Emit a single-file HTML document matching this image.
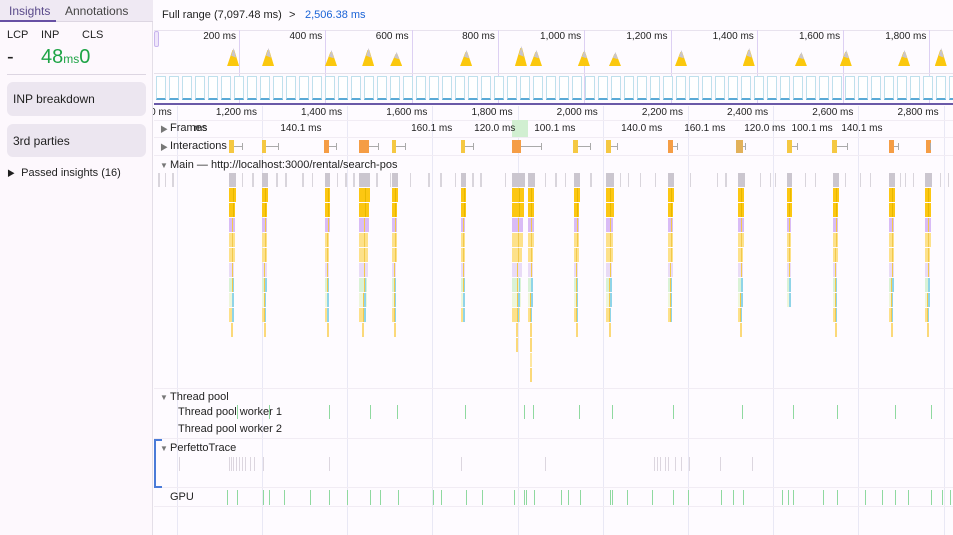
<!DOCTYPE html>
<html><head><meta charset="utf-8">
<style>
*{box-sizing:border-box;margin:0;padding:0}
body{width:953px;height:535px;overflow:hidden;background:#fefbff;font-family:"Liberation Sans","Noto Sans CJK KR",sans-serif;font-size:11px;color:#1f1f1f;position:relative}
.abs{position:absolute}
#side{left:0;top:0;width:153px;height:535px;background:#fdf8fd;border-right:1px solid #e4dfe8;z-index:5}
.tabs{position:absolute;left:0;top:0;width:153px;height:22px;background:#efe9f3;border-bottom:1px solid #ddd6e2}
.tab{position:absolute;top:4px;font-size:12px;color:#444}
.btn{position:absolute;left:7px;width:139px;background:#ece6f0;border-radius:6px;font-size:12px;padding-left:6px;display:flex;align-items:center}
.lbl{position:absolute;font-size:11px;white-space:nowrap}
</style></head><body>
<div id="side" class="abs">
 <div class="tabs">
  <div class="tab" style="left:9px;color:#5a4a8a">Insights</div>
  <div class="abs" style="left:0;top:20px;width:56px;height:2px;background:#6750a4"></div>
  <div class="tab" style="left:65px">Annotations</div>
 </div>
 <div class="lbl" style="left:7px;top:29px">LCP</div>
 <div class="lbl" style="left:41px;top:29px">INP</div>
 <div class="lbl" style="left:82px;top:29px">CLS</div>
 <div class="lbl" style="left:7px;top:46px;font-size:20px">-</div>
 <div class="lbl" style="left:41px;top:46px;font-size:20px;color:#1ea446">48<span style="font-size:12px">ms</span>0</div>
 <div class="abs" style="left:7px;top:74px;width:139px;height:1px;background:#ddd6e2"></div>
 <div class="btn" style="top:82px;height:34px">INP breakdown</div>
 <div class="btn" style="top:124px;height:33px">3rd parties</div>
 <div class="lbl" style="left:7px;top:167px"><span style="font-size:8px">▶</span>&nbsp; Passed insights (16)</div>
</div>

<div class="lbl" style="left:162px;top:9px">Full range (7,097.48 ms)</div>
<div class="lbl" style="left:289px;top:9px">&gt;</div>
<div class="lbl" style="left:305px;top:9px;color:#1a63d6">2,506.38 ms</div>

<div id="chart" class="abs" style="left:0;top:0;width:953px;height:535px"></div>

<script>
// Overview (full range) data
const overviewTicks=[200,400,600,800,1000,1200,1400,1600,1800];
const overviewPeaks=[184,265,411,497,562,724,851,886,997,1069,1222,1379,1500,1604,1739,1824];
const overviewPeakHeights=[16,16,14,16,12,14,18,14,14,12,14,16,12,14,14,16];
// Main timeline data (ms)
const rulerTicks=[1000,1200,1400,1600,1800,2000,2200,2400,2600,2800];
const frameLabels=["ms","140.1 ms","160.1 ms","120.0 ms","100.1 ms","140.0 ms","160.1 ms","120.0 ms","100.1 ms","140.1 ms"];
const frameLabelTimes=[1056,1290,1597,1745,1886,2090,2238,2379,2490,2607];
const greenFrameStart=1787, greenFrameEnd=1824;
const interactionStart=[1123,1200,1346,1428,1505,1667,1787,1930,2007,2153,2312,2432,2538,2672,2758];
const interactionDur=[12,9,12,23,9,9,21,12,12,12,16,12,12,12,12];
const interactionEnd=[1153,1238,1374,1472,1536,1695,1855,1970,2033,2174,2334,2456,2573,2693,2768];
const interactionKind=["y","y","o","o","y","y","o","y","y","o","t","y","y","o","o"];
const burstStart=[1123,1200,1348,1428,1505,1667,1787,1824,1932,2008,2153,2317,2432,2540,2672,2756];
const burstDur=[16,14,12,26,14,12,30,16,14,19,14,16,12,14,14,16];
const burstDepth=[11,11,11,11,11,10,12,14,11,11,10,11,9,11,11,11];
const minorTasks=[956,972,989,1153,1177,1233,1254,1294,1317,1376,1395,1414,1468,1500,1547,1590,1618,1653,1693,1712,1770,1864,1888,1911,1970,2040,2059,2087,2122,2204,2268,2287,2369,2392,2404,2474,2498,2568,2603,2627,2697,2709,2728,2791,2810];
const worker1=[1141,1216,1357,1453,1517,1676,1815,1836,1944,2021,2165,2327,2446,2550,2686,2770];
const perfetto=[1005,1123,1128,1133,1140,1145,1152,1160,1172,1181,1202,1357,1667,1864,2120,2127,2134,2146,2153,2169,2183,2202,2275,2350];
const gpu=[1118,1141,1202,1216,1252,1313,1357,1399,1453,1477,1519,1601,1620,1679,1716,1791,1815,1820,1838,1902,1918,1946,2017,2021,2057,2115,2165,2200,2277,2305,2329,2420,2434,2446,2517,2550,2615,2655,2686,2716,2770,2796,2815];

const C=document.getElementById('chart');
function ox(t){return 152.7+t*0.4315;}
function x(t){return 262+(t-1200)*0.426;}
function box(l,t,w,h,bg,name,extra){const d=document.createElement('div');d.className='abs';d.style.cssText=`left:${l}px;top:${t}px;width:${w}px;height:${h}px;background:${bg};${extra||''}`;


C.appendChild(d);return d;}
function text(l,t,s,name,extra){const d=document.createElement('div');d.className='lbl';d.style.cssText=`left:${l}px;top:${t}px;${extra||''}`;d.textContent=s;


C.appendChild(d);return d;}

// Overview
box(154,30,799,1,'#e8e2ee','overview-top-border');
box(154,31,5,16,'#efe6fa','overview-left-handle','border:1px solid #c9b6ee;border-radius:2px');
overviewTicks.forEach(t=>{const X=ox(t);box(X,30,1,74,'#ddd0f3','overview-gridline');
 text(X-60,31,t.toLocaleString('en-US')+' ms','overview-tick-label','width:57px;text-align:right;font-size:10px');});
overviewPeaks.forEach((t,i)=>{const X=ox(t),h=overviewPeakHeights[i];
 box(X-5,66-h,12,h,'#fbc80e','overview-cpu-peak','clip-path:polygon(45% 0,60% 0,100% 100%,0 100%)');
 box(X-1,66-h-2,5,h*0.6,'#c9c5cc','overview-cpu-gray','clip-path:polygon(50% 0,100% 100%,0 80%)');});
box(154,73,799,1,'#e6e1ea','overview-divider');
for(let X=156;X<953;X+=13){box(X,76,10,24,'#fff','frame-thumbnail','border:1px solid #bfe0ec;border-bottom:2px solid #5aaad6');}
box(154,103,799,2,'#6a59a8','overview-bottom-border');

// Ruler + gridlines
rulerTicks.forEach(t=>{const X=x(t);box(X,106,1,429,'#e9e8f5','time-gridline');
 text(X-60,107,t.toLocaleString('en-US')+' ms','ruler-tick-label','width:55px;text-align:right;font-size:10px');});
[120,137,155,388,438,487,506].forEach(y=>box(154,y,799,1,'#f1ecf4','track-separator'));

// Frames track
box(x(greenFrameStart),120,x(greenFrameEnd)-x(greenFrameStart),17,'#d1efd1','frame-dropped-highlight');
frameLabelTimes.forEach((t,i)=>text(x(t)-20,123,frameLabels[i],'frame-duration-label','width:40px;text-align:center;font-size:10px'));
text(160,124,'▶','frames-expand-toggle','font-size:8px;color:#777');
text(170,122,'Frames','frames-track-label');

// Interactions
text(160,142,'▶','interactions-expand-toggle','font-size:8px;color:#777');
text(170,140,'Interactions','interactions-track-label');
const kc={y:'#f5c842',o:'#f59d45',t:'#e2b15a'};
interactionStart.forEach((t,i)=>{const X=x(t),W=Math.max(3,interactionDur[i]*0.426),E=x(interactionEnd[i]);
 box(X,140,W,13,kc[interactionKind[i]],'interaction-bar');
 box(X+W,146,E-X-W,1,'#aaa','interaction-whisker');
 box(E,143,1,7,'#aaa','interaction-whisker-cap');});

// Main track
text(160,161,'▼','main-expand-toggle','font-size:8px;color:#777');
text(170,159,'Main — http://localhost:3000/rental/search-pos','main-track-label');
minorTasks.forEach(t=>box(x(t),173,1.5,14,'#d9d5dc','minor-task'));
const pal=['#cbc6cf','#fcc712','#fcc712','#d9bbf6','#fde18a','#fde18a','#e9dbf6','#d9f2d6','#eef6da','#fde18a','#fbd97a','#fbd97a','#fde6a0','#fbd97a'];
burstStart.forEach((t,i)=>{const X=x(t),W=burstDur[i]*0.426,D=burstDepth[i];
 for(let d=0;d<D;d++){let w=d<10?W*(1-d*0.04):2;let l=d<10?X:X+W*0.3;
  box(l,173+d*15,w,14,pal[d],'flame-event');
  if(d>=1&&d<10&&W>5){box(l+w*0.55,173+d*15,1,14,d<3?'#e8b800':'#f2c94c','flame-subevent');}
  if(d>=7&&d<10){box(l+w*0.7,173+d*15,1.5,14,'#8fd4e8','flame-subevent');}
 }});

// Thread pool
text(160,393,'▼','thread-pool-toggle','font-size:8px;color:#777');
text(170,391,'Thread pool','thread-pool-label');
text(178,406,'Thread pool worker 1','worker1-label');
text(178,423,'Thread pool worker 2','worker2-label');
worker1.forEach(t=>box(x(t),405,1,14,'#8fd9a0','worker1-task'));

// PerfettoTrace
box(154,439,2,49,'#4a7bd8','perfetto-bracket');
box(154,439,8,2,'#4a7bd8','perfetto-bracket-top');
box(154,486,8,2,'#4a7bd8','perfetto-bracket-bottom');
text(160,444,'▼','perfetto-toggle','font-size:8px;color:#777');
text(170,442,'PerfettoTrace','perfetto-label');
perfetto.forEach(t=>box(x(t),457,1,14,'#dcd6df','perfetto-event'));

// GPU
text(170,491,'GPU','gpu-label');
gpu.forEach(t=>box(x(t),490,1,15,'#8fd9a0','gpu-task'));
</script>
</body></html>
